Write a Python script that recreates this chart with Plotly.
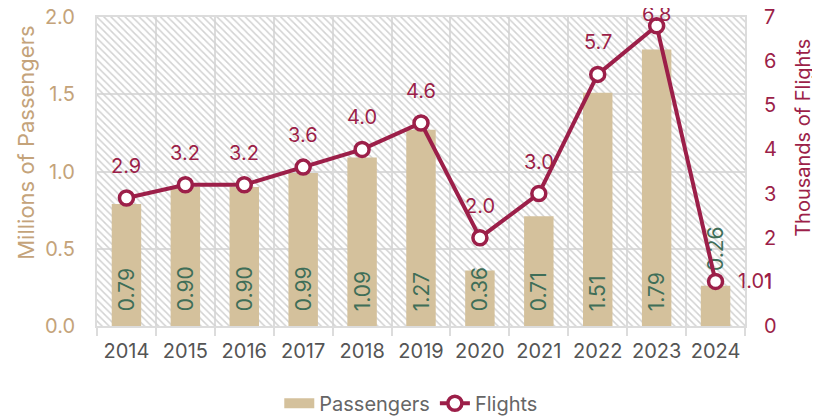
import plotly.graph_objects as go

years = ["2014", "2015", "2016", "2017", "2018", "2019", "2020", "2021", "2022", "2023", "2024"]
passengers = [0.79, 0.90, 0.90, 0.99, 1.09, 1.27, 0.36, 0.71, 1.51, 1.79, 0.26]
flights = [2.9, 3.2, 3.2, 3.6, 4.0, 4.6, 2.0, 3.0, 5.7, 6.8, 1.01]
flight_labels = ["2.9", "3.2", "3.2", "3.6", "4.0", "4.6", "2.0", "3.0", "5.7", "6.8", "1.01"]

FONT = "Inter"
TAN = "#D4C19C"
MAROON = "#9C1F49"
GREEN = "#3F6E58"
GOLD = "#C4A37A"
Y1_MAX = 2.0
Y2_MAX = 7

# the page body adds an 8px offset, so the figure is a bit smaller than the window
W, H = 812, 410
M = dict(l=89, r=75, t=9, b=92)
plot_h = H - M["t"] - M["b"]

fig = go.Figure()

# hatched backdrop for each category column
fig.add_trace(go.Bar(
    x=years, y=[Y1_MAX] * len(years), width=1,
    marker=dict(color="rgba(0,0,0,0)", line=dict(width=0),
                pattern=dict(shape="\\", fgcolor="#d2d2d2", size=5, solidity=0.3, fillmode="replace")),
    hoverinfo="skip", showlegend=False,
))

fig.add_trace(go.Bar(
    x=years, y=passengers, width=0.5, name="Passengers",
    marker=dict(color=TAN, line=dict(width=0)),
    # non-breaking spaces give the labels some room from the bar base
    text=["\u00a0\u00a0" + f"{v:.2f}" for v in passengers],
    textposition=["inside"] * (len(years) - 1) + ["outside"],
    insidetextanchor="start", textangle=-90,
    textfont=dict(family=FONT, size=21, color=GREEN),
    constraintext="none", cliponaxis=False,
    showlegend=False,
))

# legend swatch for passengers
fig.add_trace(go.Scatter(
    x=years[:1], y=[None], mode="lines", name="Passengers",
    line=dict(color=TAN, width=10), hoverinfo="skip",
))

fig.add_trace(go.Scatter(
    x=years, y=flights, yaxis="y2", name="Flights",
    mode="lines+markers",
    line=dict(color=MAROON, width=4),
    marker=dict(symbol="circle", size=14, color="white", line=dict(color=MAROON, width=3.5)),
    cliponaxis=False,
))

for i, (yr, v, lab) in enumerate(zip(years, flights, flight_labels)):
    last = i == len(years) - 1
    # keep labels near the top edge (mostly) inside the figure
    room = M["t"] + (Y2_MAX - v) / Y2_MAX * plot_h - 6
    fig.add_annotation(
        x=i, y=v, xref="x", yref="y2", text=lab, showarrow=False,
        xanchor="left" if last else "center",
        xshift=20 if last else 0, yshift=0 if last else min(32, room),
        font=dict(family=FONT, size=20, color=MAROON),
    )

# axis titles sit a little above the middle of the plot
fig.add_annotation(x=-0.11, y=0.592, xref="paper", yref="paper", text="Millions of Passengers",
                   textangle=-90, showarrow=False, xanchor="center", yanchor="middle",
                   font=dict(family=FONT, size=22, color=GOLD))
fig.add_annotation(x=1.089, y=0.608, xref="paper", yref="paper", text="Thousands of Flights",
                   textangle=-90, showarrow=False, xanchor="center", yanchor="middle",
                   font=dict(family=FONT, size=20, color=MAROON))

fig.update_layout(
    width=W, height=H,
    margin=dict(**M, autoexpand=False),
    paper_bgcolor="white", plot_bgcolor="white",
    barmode="overlay",
    font=dict(family=FONT, size=18, color="#555555"),
    legend=dict(orientation="h", x=0.485, xanchor="center", y=-0.25, yanchor="middle",
                font=dict(family=FONT, size=20, color="#666666")),
    xaxis=dict(
        type="category", categoryorder="array", categoryarray=years, range=[-0.5, len(years) - 0.5],
        tickson="boundaries", showgrid=True, gridcolor="#dcdcdc", gridwidth=2,
        ticks="outside", ticklen=8, tickcolor="#dcdcdc", tickwidth=2, tickangle=0,
        ticklabelstandoff=6, automargin=False,
        showline=True, linecolor="#dcdcdc", linewidth=2, mirror=True,
        tickfont=dict(family=FONT, size=20, color="#555555"),
    ),
    yaxis=dict(
        range=[0, Y1_MAX], dtick=0.5, tickformat=".1f",
        showgrid=True, gridcolor="#dcdcdc", gridwidth=2, zeroline=False,
        showline=True, linecolor="#dcdcdc", linewidth=2, mirror=True,
        ticklabelstandoff=16, automargin=False, ticklabeloverflow="allow",
        tickfont=dict(family=FONT, size=20, color=GOLD),
    ),
    yaxis2=dict(
        overlaying="y", side="right", range=[0, Y2_MAX], dtick=1,
        showgrid=False, zeroline=False,
        ticklabelstandoff=18, automargin=False, ticklabeloverflow="allow",
        tickfont=dict(family=FONT, size=20, color=MAROON),
    ),
)

fig.write_html("out.html")
